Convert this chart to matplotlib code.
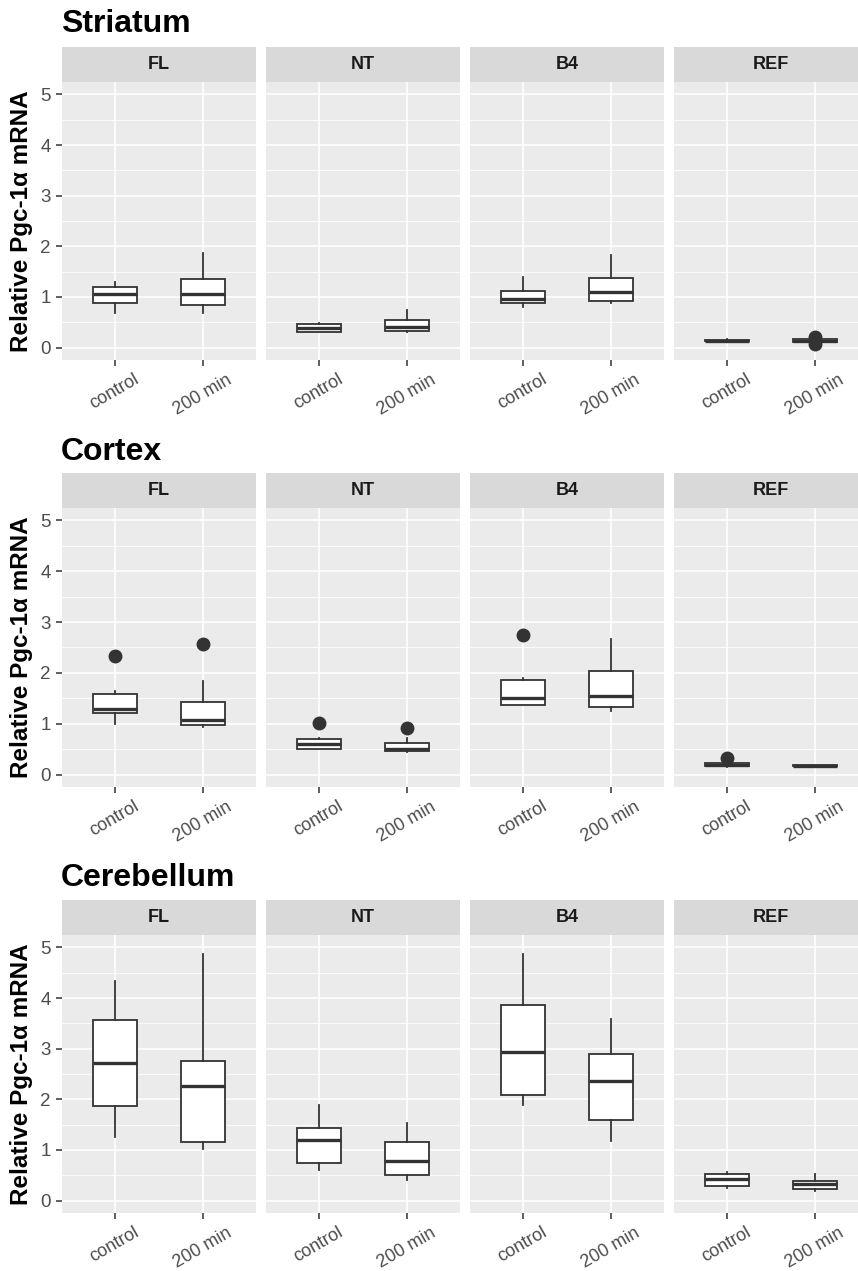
import matplotlib
matplotlib.use('Agg')
import matplotlib.pyplot as plt

# groups and conditions (one panel per group, two boxes per panel)
groups = ['FL', 'NT', 'B4', 'REF']
conditions = ['control', '200 min']

# box statistics, ordered FL-control, FL-200, NT-control, NT-200, B4-control, B4-200, REF-control, REF-200
striatum_whislo = [0.68, 0.69, 0.30, 0.30, 0.80, 0.88, 0.12, 0.11]
striatum_q1 = [0.88, 0.85, 0.31, 0.32, 0.88, 0.93, 0.13, 0.12]
striatum_med = [1.05, 1.05, 0.38, 0.40, 0.95, 1.10, 0.14, 0.14]
striatum_q3 = [1.20, 1.36, 0.47, 0.55, 1.12, 1.38, 0.15, 0.16]
striatum_whishi = [1.30, 1.86, 0.48, 0.74, 1.40, 1.83, 0.16, 0.17]
striatum_fliers = [[], [], [], [], [], [], [], [0.21, 0.07]]

cortex_whislo = [0.99, 0.94, 0.50, 0.44, 1.36, 1.25, 0.15, 0.15]
cortex_q1 = [1.22, 0.97, 0.51, 0.46, 1.37, 1.32, 0.16, 0.16]
cortex_med = [1.29, 1.08, 0.61, 0.50, 1.50, 1.55, 0.19, 0.17]
cortex_q3 = [1.59, 1.43, 0.69, 0.62, 1.86, 2.04, 0.22, 0.19]
cortex_whishi = [1.64, 1.84, 0.71, 0.71, 1.89, 2.66, 0.23, 0.19]
cortex_fliers = [[2.34], [2.56], [1.02], [0.92], [2.75], [], [0.33], []]

cerebellum_whislo = [1.26, 1.01, 0.60, 0.40, 1.88, 1.17, 0.25, 0.19]
cerebellum_q1 = [1.86, 1.15, 0.74, 0.51, 2.09, 1.60, 0.28, 0.22]
cerebellum_med = [2.72, 2.26, 1.19, 0.78, 2.93, 2.36, 0.43, 0.32]
cerebellum_q3 = [3.56, 2.76, 1.43, 1.16, 3.87, 2.90, 0.52, 0.38]
cerebellum_whishi = [4.33, 4.87, 1.89, 1.53, 4.87, 3.59, 0.56, 0.52]
cerebellum_fliers = [[], [], [], [], [], [], [], []]

regions = [
    ('Striatum', striatum_whislo, striatum_q1, striatum_med, striatum_q3, striatum_whishi, striatum_fliers),
    ('Cortex', cortex_whislo, cortex_q1, cortex_med, cortex_q3, cortex_whishi, cortex_fliers),
    ('Cerebellum', cerebellum_whislo, cerebellum_q1, cerebellum_med, cerebellum_q3, cerebellum_whishi, cerebellum_fliers),
]

plt.rcParams['font.family'] = ['Liberation Sans', 'DejaVu Sans']

W, H = 858, 1271
fig = plt.figure(figsize=(W / 100, H / 100), dpi=100)


def px_box(x0, y0, x1, y1):
    return [x0 / W, 1 - y1 / H, (x1 - x0) / W, (y1 - y0) / H]


panel_left = [62, 266, 470, 674]
panel_w = 194
panel_top = [82, 508, 935]
panel_bot = [360, 787, 1213]
title_y = [24, 452, 878]
strip_h = 35

dark = '#333333'
for r, (name, wlo, q1, med, q3, whi, fl) in enumerate(regions):
    fig.text(61 / W, 1 - title_y[r] / H, name, fontsize=23, fontweight='bold',
             ha='left', va='center', color='black')
    for g, grp in enumerate(groups):
        x0 = panel_left[g]
        ax = fig.add_axes(px_box(x0, panel_top[r], x0 + panel_w, panel_bot[r]))
        strip = fig.add_axes(px_box(x0, panel_top[r] - strip_h, x0 + panel_w, panel_top[r]))
        strip.set_facecolor('#D9D9D9')
        strip.set_xticks([])
        strip.set_yticks([])
        for s in strip.spines.values():
            s.set_visible(False)
        strip.text(0.5, 0.5, grp, ha='center', va='center', fontsize=13,
                   fontweight='bold', color='#1A1A1A', transform=strip.transAxes)

        stats = []
        for c in range(2):
            i = 2 * g + c
            stats.append(dict(whislo=wlo[i], q1=q1[i], med=med[i], q3=q3[i],
                              whishi=whi[i], fliers=fl[i]))

        ax.set_facecolor('#EBEBEB')
        ax.set_axisbelow(True)
        ax.set_yticks([0, 1, 2, 3, 4, 5])
        ax.set_yticks([0.5, 1.5, 2.5, 3.5, 4.5], minor=True)
        ax.grid(which='major', color='white', linewidth=1.1)
        ax.grid(which='minor', axis='y', color='white', linewidth=0.55)

        ax.bxp(stats, positions=[1, 2], widths=0.5, patch_artist=True,
               showcaps=False,
               boxprops=dict(facecolor='white', edgecolor=dark, linewidth=1.3),
               medianprops=dict(color=dark, linewidth=2.4, solid_capstyle='butt'),
               whiskerprops=dict(color=dark, linewidth=1.3),
               flierprops=dict(marker='o', markerfacecolor=dark, markeredgecolor=dark,
                               markersize=9, linestyle='none'))

        ax.set_xlim(0.4, 2.6)
        ax.set_ylim(-0.245, 5.245)
        ax.set_xticks([1, 2])
        ax.set_xticklabels(conditions, rotation=30, ha='center', fontsize=13, color='#4D4D4D')
        ax.tick_params(axis='both', which='major', length=4, width=1.1, color=dark, pad=4)
        ax.tick_params(axis='y', which='minor', length=0)
        for s in ax.spines.values():
            s.set_visible(False)
        if g == 0:
            ax.set_yticklabels(['0', '1', '2', '3', '4', '5'], fontsize=13.5, color='#4D4D4D')
            ax.set_ylabel('Relative Pgc-1α mRNA', fontsize=17.5, fontweight='bold',
                          color='black', labelpad=5)
        else:
            ax.tick_params(axis='y', which='major', left=False, labelleft=False)

fig.savefig('out.png', dpi=100)
